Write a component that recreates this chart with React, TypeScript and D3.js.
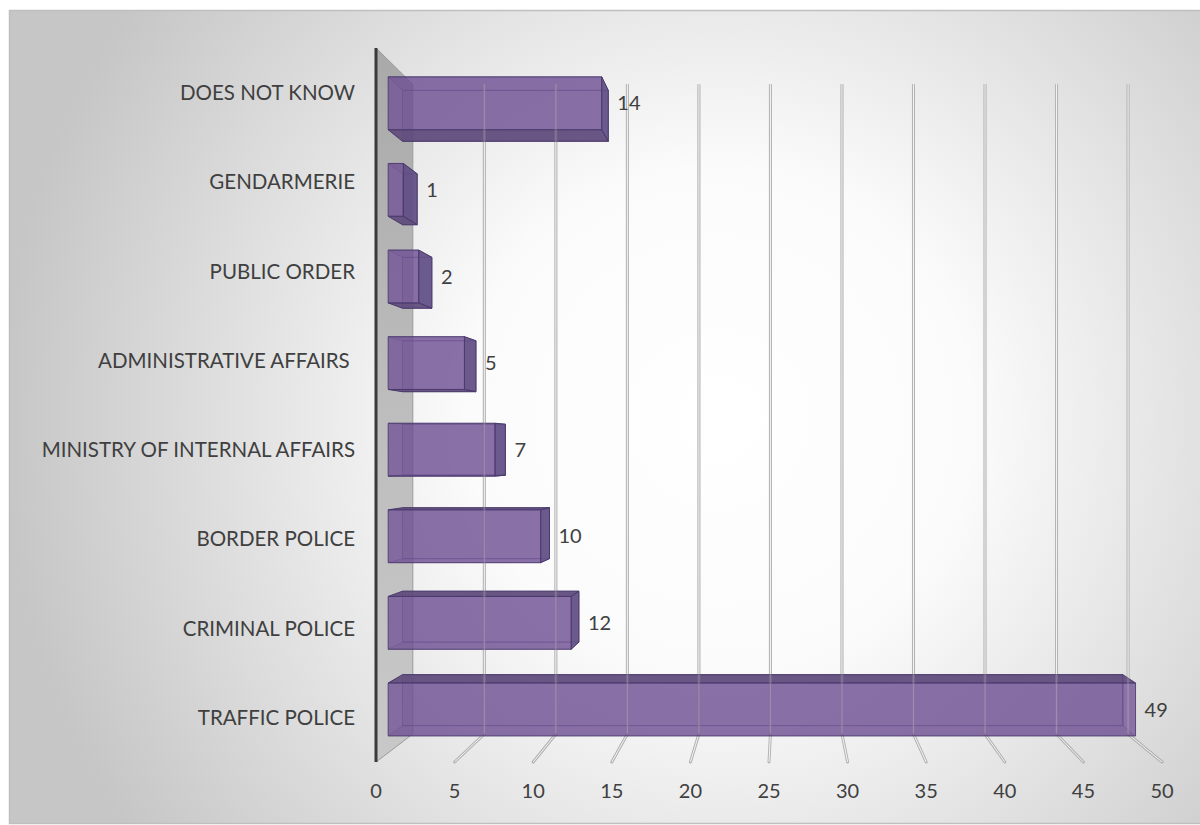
import React from "react";
import * as d3 from "d3";

const categories = [
  "DOES NOT KNOW",
  "GENDARMERIE",
  "PUBLIC ORDER",
  "ADMINISTRATIVE AFFAIRS ",
  "MINISTRY OF INTERNAL AFFAIRS",
  "BORDER POLICE",
  "CRIMINAL POLICE",
  "TRAFFIC POLICE",
];
const values = [14, 1, 2, 5, 7, 10, 12, 49];
const ticks = [0, 5, 10, 15, 20, 25, 30, 35, 40, 45, 50];

const W = 1200;
const H = 825;

// front plane
const x = d3.scaleLinear().domain([0, 50]).range([376, 1162]);
const y = d3.scaleBand<string>().domain(categories).range([48, 762]).paddingInner(0.39).paddingOuter(0.195);
const yBand = d3.scaleBand<string>().domain(categories).range([48, 762]);

// perspective
const VPX = 785;
const VPY = 451;
const K = 0.0989;
const D0 = 0.31;
const D1 = 0.7;
function proj(v: number, Y: number, d: number): [number, number] {
  const s = 1 / (1 + K * d);
  const X = x(v);
  return [VPX + s * (X - VPX), VPY + s * (Y - VPY)];
}
const poly = (pts: [number, number][]) => pts.map((p) => p.join(",")).join(" ");

const FONT = "Lato, 'Open Sans', sans-serif";
const TEXT = "#404040";

export default function App() {
  const yTop = 48;
  const yBot = 762;
  const wall = [proj(0, yTop, 0), proj(0, yTop, 1), proj(0, yBot, 1), proj(0, yBot, 0)];
  const gridVals = ticks.filter((t) => t > 0);

  const gridLines = (key: string, opacity: number) =>
    gridVals.map((v) => {
      const a = proj(v, yTop, 1);
      const b = proj(v, yBot, 1);
      return (
        <g key={key + v} opacity={opacity}>
          <line x1={a[0]} y1={a[1]} x2={b[0]} y2={b[1]} stroke="#b3b3b3" strokeWidth={3} />
          <line x1={a[0]} y1={a[1]} x2={b[0]} y2={b[1]} stroke="#f4f4f4" strokeWidth={1} />
        </g>
      );
    });

  return (
    <svg width={W} height={H} style={{ position: "absolute", left: 0, top: 0 }}>
      <defs>
        <radialGradient id="bg" cx="720" cy="420" r="720" gradientUnits="userSpaceOnUse">
          <stop offset="0" stopColor="#ffffff" />
          <stop offset="0.35" stopColor="#fbfbfb" />
          <stop offset="1" stopColor="#c6c6c6" />
        </radialGradient>
        <linearGradient id="wallg" x1="0" y1="0" x2="0" y2="1">
          <stop offset="0" stopColor="#a9a9a9" />
          <stop offset="0.5" stopColor="#bdbdbd" />
          <stop offset="1" stopColor="#c8c8c8" />
        </linearGradient>
      </defs>
      <rect x={0} y={0} width={W} height={H} fill="#ffffff" />
      <rect x={9.5} y={10.5} width={W} height={813} fill="url(#bg)" stroke="#bfbfbf" strokeWidth={1.5} />

      {/* wall */}
      <polygon points={poly(wall)} fill="url(#wallg)" stroke="#9a9a9a" strokeWidth={1} />
      <line x1={wall[0][0]} y1={wall[0][1]} x2={wall[3][0]} y2={wall[3][1]} stroke="#3a3a3a" strokeWidth={3} />

      {/* back gridlines */}
      {gridLines("g", 1)}
      {/* floor lines */}
      {gridVals.map((v) => {
        const a = proj(v, yBot, 1);
        const b = proj(v, yBot, 0);
        return (
          <g key={"f" + v}>
            <line x1={a[0]} y1={a[1]} x2={b[0]} y2={b[1]} stroke="#b3b3b3" strokeWidth={3} strokeLinecap="round" />
            <line x1={a[0]} y1={a[1]} x2={b[0]} y2={b[1]} stroke="#f4f4f4" strokeWidth={1} />
          </g>
        );
      })}

      {/* bars */}
      {categories.map((c, i) => {
        const v = values[i];
        const t = y(c)!;
        const b = t + y.bandwidth();
        const f = [proj(0, t, D0), proj(v, t, D0), proj(v, b, D0), proj(0, b, D0)];
        const k = [proj(0, t, D1), proj(v, t, D1), proj(v, b, D1), proj(0, b, D1)];
        const topFace = [f[0], f[1], k[1], k[0]];
        const botFace = [f[3], f[2], k[2], k[3]];
        const rightFace = [f[1], k[1], k[2], f[2]];
        const above = (t + b) / 2 < VPY;
        const rightVisible = f[1][0] < k[1][0];
        const edge = "#4a3a6c";
        return (
          <g key={c}>
            <polygon points={poly(k)} fill="#5a4580" fillOpacity={0.2} stroke={edge} strokeOpacity={0.45} strokeWidth={1} />
            <polygon points={poly(above ? topFace : botFace)} fill="#5a4580" fillOpacity={0.2} stroke={edge} strokeOpacity={0.35} strokeWidth={1} />
            <polygon points={poly(above ? botFace : topFace)} fill="#5f4b7c" fillOpacity={0.92} stroke={edge} strokeWidth={1} />
            {rightVisible && (
              <polygon points={poly(rightFace)} fill="#5f4c84" fillOpacity={0.9} stroke={edge} strokeWidth={1} />
            )}
            <polygon points={poly(f)} fill="#6e4d93" fillOpacity={0.75} stroke={edge} strokeOpacity={0.85} strokeWidth={1} />
            {!rightVisible && (
              <line x1={k[1][0]} y1={k[1][1]} x2={k[2][0]} y2={k[2][1]} stroke={edge} strokeOpacity={0.45} />
            )}
          </g>
        );
      })}

      {/* gridlines seen through translucent bars */}
      {gridLines("o", 0.22)}

      {/* value labels */}
      {categories.map((c, i) => {
        const v = values[i];
        const t = y(c)!;
        const b = t + y.bandwidth();
        const pf = proj(v, (t + b) / 2, D0);
        const pk = proj(v, (t + b) / 2, D1);
        return (
          <text key={"v" + c} x={Math.max(pf[0], pk[0]) + 9} y={pf[1]} dy="0.36em" fontFamily={FONT} fontSize={20} fill={TEXT}>
            {v}
          </text>
        );
      })}

      {/* category labels */}
      {categories.map((c) => (
        <text
          key={"c" + c}
          x={355}
          y={yBand(c)! + yBand.bandwidth() / 2}
          dy="0.36em"
          textAnchor="end"
          fontFamily={FONT}
          fontSize={20.5}
          fill={TEXT}
          style={{ whiteSpace: "pre" }}
        >
          {c}
        </text>
      ))}

      {/* tick labels */}
      {ticks.map((tv) => (
        <text key={"t" + tv} x={x(tv)} y={791} dy="0.36em" textAnchor="middle" fontFamily={FONT} fontSize={20} fill={TEXT}>
          {tv}
        </text>
      ))}
    </svg>
  );
}
